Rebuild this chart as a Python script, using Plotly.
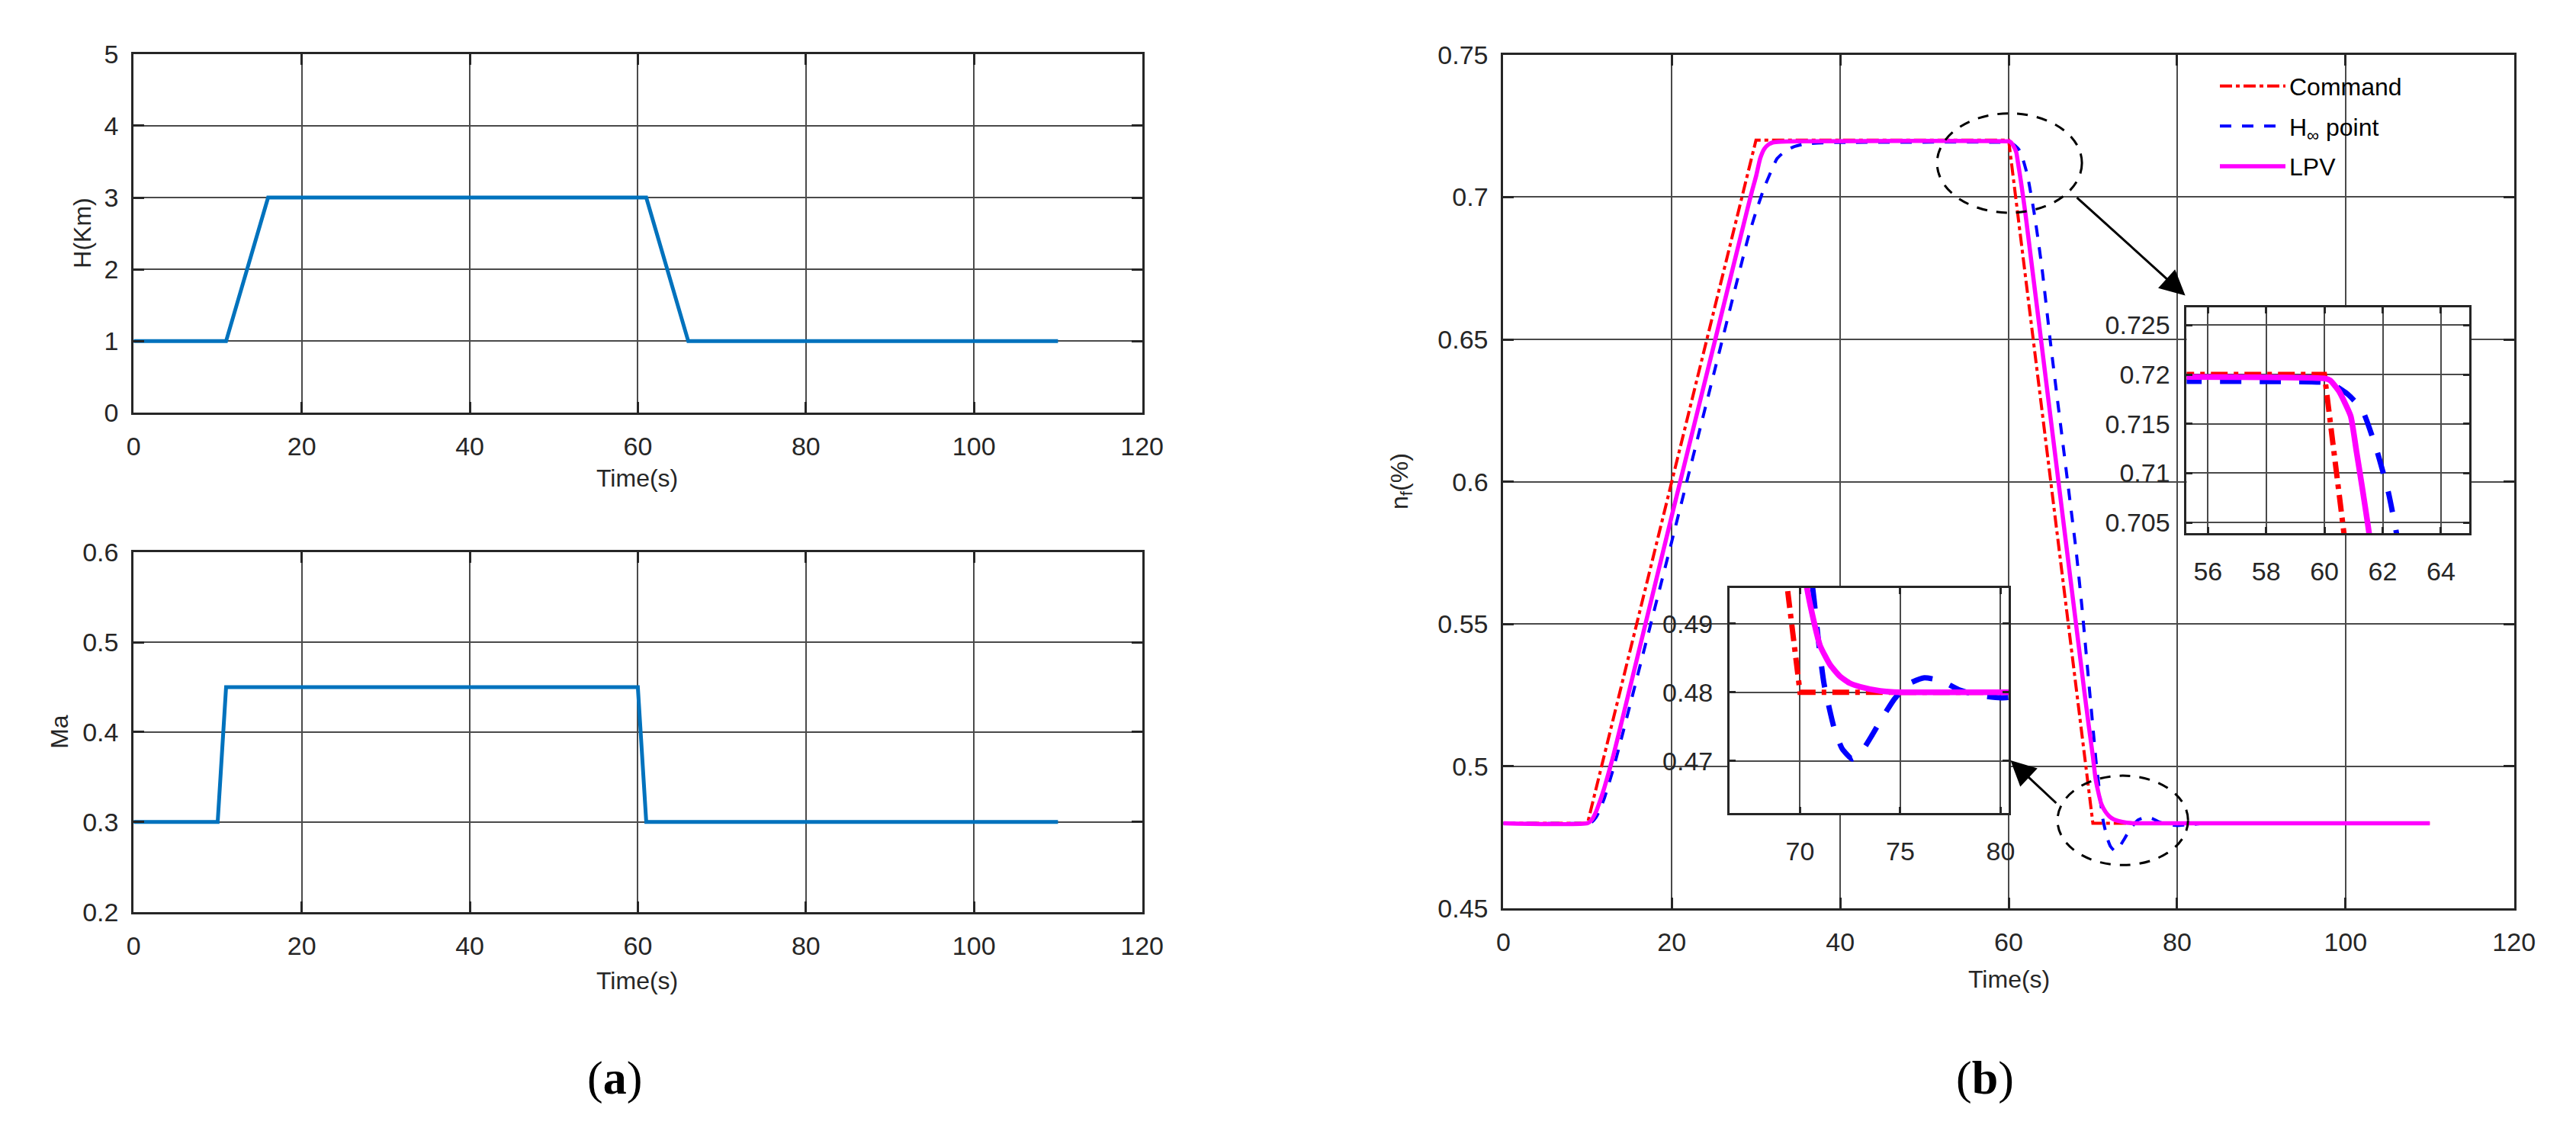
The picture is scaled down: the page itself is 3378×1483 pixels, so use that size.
import plotly.graph_objects as go

W, H = 3378, 1483

# ---------------- data ----------------
# panel (a) top: altitude H (km)
h_time = [0, 11, 16, 61, 66, 110]
h_km = [1, 1, 3, 3, 1, 1]
# panel (a) bottom: Mach number
ma_time = [0, 10, 11, 60, 61, 110]
ma_val = [0.3, 0.3, 0.45, 0.45, 0.3, 0.3]

# panel (b): fan speed nf
cmd_time = [0, 10, 30, 60, 70, 110]
cmd_val = [0.48, 0.48, 0.72, 0.72, 0.48, 0.48]

lpv_time = [0, 10, 10.5, 11, 11.5, 12, 13, 14, 20, 25, 29, 29.5, 30, 30.5, 31, 31.5, 32, 33, 35,
            60, 60.2, 60.5, 60.9, 61.1, 61.3, 61.5, 62, 65, 69, 69.5, 70, 70.3, 70.6, 71, 71.5,
            72, 72.5, 73, 74, 75, 110]
lpv_val = [0.48, 0.48, 0.4812, 0.4840, 0.4880, 0.4925, 0.5030, 0.5150, 0.5880, 0.6480, 0.6960,
           0.7018, 0.7072, 0.7136, 0.7170, 0.7185, 0.7192, 0.7195, 0.7196,
           0.7196, 0.7194, 0.7183, 0.7158, 0.7122, 0.7085, 0.7046, 0.6940, 0.6220, 0.5260, 0.5145,
           0.5035, 0.4960, 0.4915, 0.4868, 0.4840, 0.4823, 0.4813, 0.4808, 0.4802, 0.4800, 0.4800]

hinf_time = [0, 10, 10.5, 11, 11.5, 12, 13, 14, 15, 20, 25, 29, 29.7, 30.3, 31, 31.9, 32.5, 33.4,
             34.5, 35.9, 38, 40, 60, 60.3, 60.8, 61.3, 61.8, 62.2, 62.45, 63, 63.5, 64, 65, 67, 68,
             68.7, 69.5, 70, 70.4, 70.7, 70.95, 71.2, 71.7, 72.1, 72.6, 73.1, 73.6, 74.0, 74.7,
             75.4, 76.2, 77.0, 77.9, 78.8, 80, 81.5, 83, 85, 110]
hinf_val = [0.48, 0.48, 0.4804, 0.4820, 0.4850, 0.4888, 0.4985, 0.5095, 0.5210, 0.5790, 0.6380,
            0.6850, 0.6920, 0.6975, 0.7035, 0.7098, 0.7135, 0.7160, 0.7177, 0.7187, 0.7191, 0.7192,
            0.7192, 0.7190, 0.7180, 0.7164, 0.7123, 0.7080, 0.7043, 0.6950, 0.6850, 0.6740, 0.6480,
            0.6000, 0.5760, 0.5560, 0.5300, 0.5140, 0.5010, 0.4935, 0.4867, 0.4812, 0.4748, 0.4718,
            0.4703, 0.4715, 0.4738, 0.4758, 0.4790, 0.4812, 0.4821, 0.4817, 0.4804, 0.4796, 0.4792,
            0.4795, 0.4799, 0.4800, 0.4800]

series_names = ["Command", "H<sub>\u221e</sub> point", "LPV"]

# ticks
t_ticks = [0, 20, 40, 60, 80, 100, 120]
h_ticks = [0, 1, 2, 3, 4, 5]
ma_ticks = [0.2, 0.3, 0.4, 0.5, 0.6]
ma_labels = ["0.2", "0.3", "0.4", "0.5", "0.6"]
nf_ticks = [0.45, 0.5, 0.55, 0.6, 0.65, 0.7, 0.75]
nf_labels = ["0.45", "0.5", "0.55", "0.6", "0.65", "0.7", "0.75"]
in1_xticks = [56, 58, 60, 62, 64]
in1_yticks = [0.705, 0.71, 0.715, 0.72, 0.725]
in1_ylabels = ["0.705", "0.71", "0.715", "0.72", "0.725"]
in2_xticks = [70, 75, 80]
in2_yticks = [0.47, 0.48, 0.49]
in2_ylabels = ["0.47", "0.48", "0.49"]

# ---------------- style ----------------
FONT = "Liberation Sans, Arial, sans-serif"
TXT = "#262626"
GRID = "#4a4a4a"
C_RED, C_BLUE, C_MAG, C_A = "#FF0000", "#0000FF", "#FF00FF", "#0072BD"


def px(x):
    return x / W


def py(y):
    return 1 - y / H


fig = go.Figure()

# panel a
fig.add_trace(go.Scatter(x=h_time, y=h_km, mode="lines", line=dict(color=C_A, width=5),
                         xaxis="x", yaxis="y", showlegend=False))
fig.add_trace(go.Scatter(x=ma_time, y=ma_val, mode="lines", line=dict(color=C_A, width=5),
                         xaxis="x2", yaxis="y2", showlegend=False))

# panel b main
fig.add_trace(go.Scatter(x=cmd_time, y=cmd_val, mode="lines", name=series_names[0], legendgroup="g1",
                         line=dict(color=C_RED, width=4, dash="16px,5px,5px,5px"),
                         xaxis="x3", yaxis="y3"))
fig.add_trace(go.Scatter(x=hinf_time, y=hinf_val, mode="lines", name=series_names[1], legendgroup="g2",
                         line=dict(color=C_BLUE, width=4, dash="15px,14px", shape="spline", smoothing=0.5),
                         xaxis="x3", yaxis="y3"))
fig.add_trace(go.Scatter(x=lpv_time, y=lpv_val, mode="lines", name=series_names[2], legendgroup="g3",
                         line=dict(color=C_MAG, width=5.5, shape="spline", smoothing=0.5),
                         xaxis="x3", yaxis="y3"))

# insets
for xa, ya in (("x4", "y4"), ("x5", "y5")):
    fig.add_trace(go.Scatter(x=cmd_time, y=cmd_val, mode="lines", showlegend=False,
                             line=dict(color=C_RED, width=7, dash="22px,8px,6px,8px"),
                             xaxis=xa, yaxis=ya))
    fig.add_trace(go.Scatter(x=hinf_time, y=hinf_val, mode="lines", showlegend=False,
                             line=dict(color=C_BLUE, width=7, dash="28px,24px", shape="spline", smoothing=0.5),
                             xaxis=xa, yaxis=ya))
    fig.add_trace(go.Scatter(x=lpv_time, y=lpv_val, mode="lines", showlegend=False,
                             line=dict(color=C_MAG, width=7.5, shape="spline", smoothing=0.5),
                             xaxis=xa, yaxis=ya))


def ax_common(**kw):
    d = dict(showline=True, linecolor=TXT, linewidth=3, mirror="ticks", ticks="inside",
             ticklen=14, tickwidth=2.5, tickcolor=TXT, showgrid=True, gridcolor=GRID,
             gridwidth=2, griddash="solid", zeroline=False,
             tickfont=dict(family=FONT, size=34, color=TXT), fixedrange=True)
    d.update(kw)
    return d


xa_dom = [px(160), px(1497)]
xb_dom = [px(1976), px(3316)]

fig.update_layout(
    width=W, height=H, margin=dict(l=0, r=0, t=0, b=0),
    paper_bgcolor="white", plot_bgcolor="white",
    xaxis=ax_common(domain=xa_dom, anchor="y", range=[0, 120], tickvals=t_ticks, ticklabelstandoff=12),
    yaxis=ax_common(domain=[py(528), py(45)], anchor="x", range=[0, 5], tickvals=h_ticks, ticklabelstandoff=10),
    xaxis2=ax_common(domain=xa_dom, anchor="y2", range=[0, 120], tickvals=t_ticks, ticklabelstandoff=12),
    yaxis2=ax_common(domain=[py(1199.5), py(715.5)], anchor="x2", range=[0.2, 0.6], tickvals=ma_ticks,
                     ticktext=ma_labels, ticklabelstandoff=10),
    xaxis3=ax_common(domain=xb_dom, anchor="y3", range=[0, 120], tickvals=t_ticks, ticklabelstandoff=12),
    yaxis3=ax_common(domain=[py(1195), py(46)], anchor="x3", range=[0.45, 0.75], tickvals=nf_ticks,
                     ticktext=nf_labels, ticklabelstandoff=10),
    xaxis4=ax_common(domain=[px(2882), px(3257)], anchor="y4", range=[55.27, 64.98], tickvals=in1_xticks,
                     ticklen=8, ticklabelstandoff=18),
    yaxis4=ax_common(domain=[py(690), py(386)], anchor="x4", range=[0.7039, 0.7268], tickvals=in1_yticks,
                     ticktext=in1_ylabels, ticklen=8, ticklabelstandoff=12),
    xaxis5=ax_common(domain=[px(2276), px(2646)], anchor="y5", range=[66.49, 80.4], tickvals=in2_xticks,
                     ticklen=8, ticklabelstandoff=18),
    yaxis5=ax_common(domain=[py(1066.7), py(763.3)], anchor="x5", range=[0.4624, 0.4952], tickvals=in2_yticks,
                     ticktext=in2_ylabels, ticklen=8, ticklabelstandoff=12),
    legend=dict(x=px(2921), y=py(60), xanchor="left", yanchor="top", bgcolor="rgba(0,0,0,0)",
                borderwidth=0, font=dict(family=FONT, size=32, color="black"), itemwidth=86,
                tracegroupgap=8),
    showlegend=True,
)

# ellipses (zoom markers)
ell_dash = "14px,12px"
fig.add_shape(type="circle", xref="x3", yref="y3", x0=51.5, x1=68.7, y0=0.6945, y1=0.7294,
              line=dict(color="black", width=3, dash=ell_dash))
fig.add_shape(type="circle", xref="x3", yref="y3", x0=65.8, x1=81.3, y0=0.4653, y1=0.4967,
              line=dict(color="black", width=3, dash=ell_dash))

# arrows
fig.add_annotation(xref="x3", yref="y3", axref="x3", ayref="y3", x=80.97, y=0.6654, ax=67.97, ay=0.7002,
                   text="", showarrow=True, arrowhead=2, arrowsize=2.2, arrowwidth=3, arrowcolor="black")
fig.add_annotation(xref="x3", yref="y3", axref="x3", ayref="y3", x=60.22, y=0.5021, ax=65.78, ay=0.4867,
                   text="", showarrow=True, arrowhead=2, arrowsize=2.2, arrowwidth=3, arrowcolor="black")

# axis titles
def title(text, x, y, angle=0, size=32):
    fig.add_annotation(xref="paper", yref="paper", x=px(x), y=py(y), text=text, showarrow=False,
                       textangle=angle, xanchor="center", yanchor="middle",
                       font=dict(family=FONT, size=size, color=TXT))


title("Time(s)", 828, 616)
title("Time(s)", 828, 1292)
title("Time(s)", 2646, 1290)
title("H(Km)", 92, 286, angle=-90)
title("Ma", 62, 957, angle=-90)
title("n<sub>f</sub>(%)", 1840, 620, angle=-90)

for lab, x in (("a", 798), ("b", 2615)):
    fig.add_annotation(xref="paper", yref="paper", x=px(x), y=py(1423), text="(<b>%s</b>)" % lab,
                       showarrow=False, xanchor="center", yanchor="middle",
                       font=dict(family="Liberation Serif, DejaVu Serif, serif", size=62, color="black"))

fig.write_html("out.html")
